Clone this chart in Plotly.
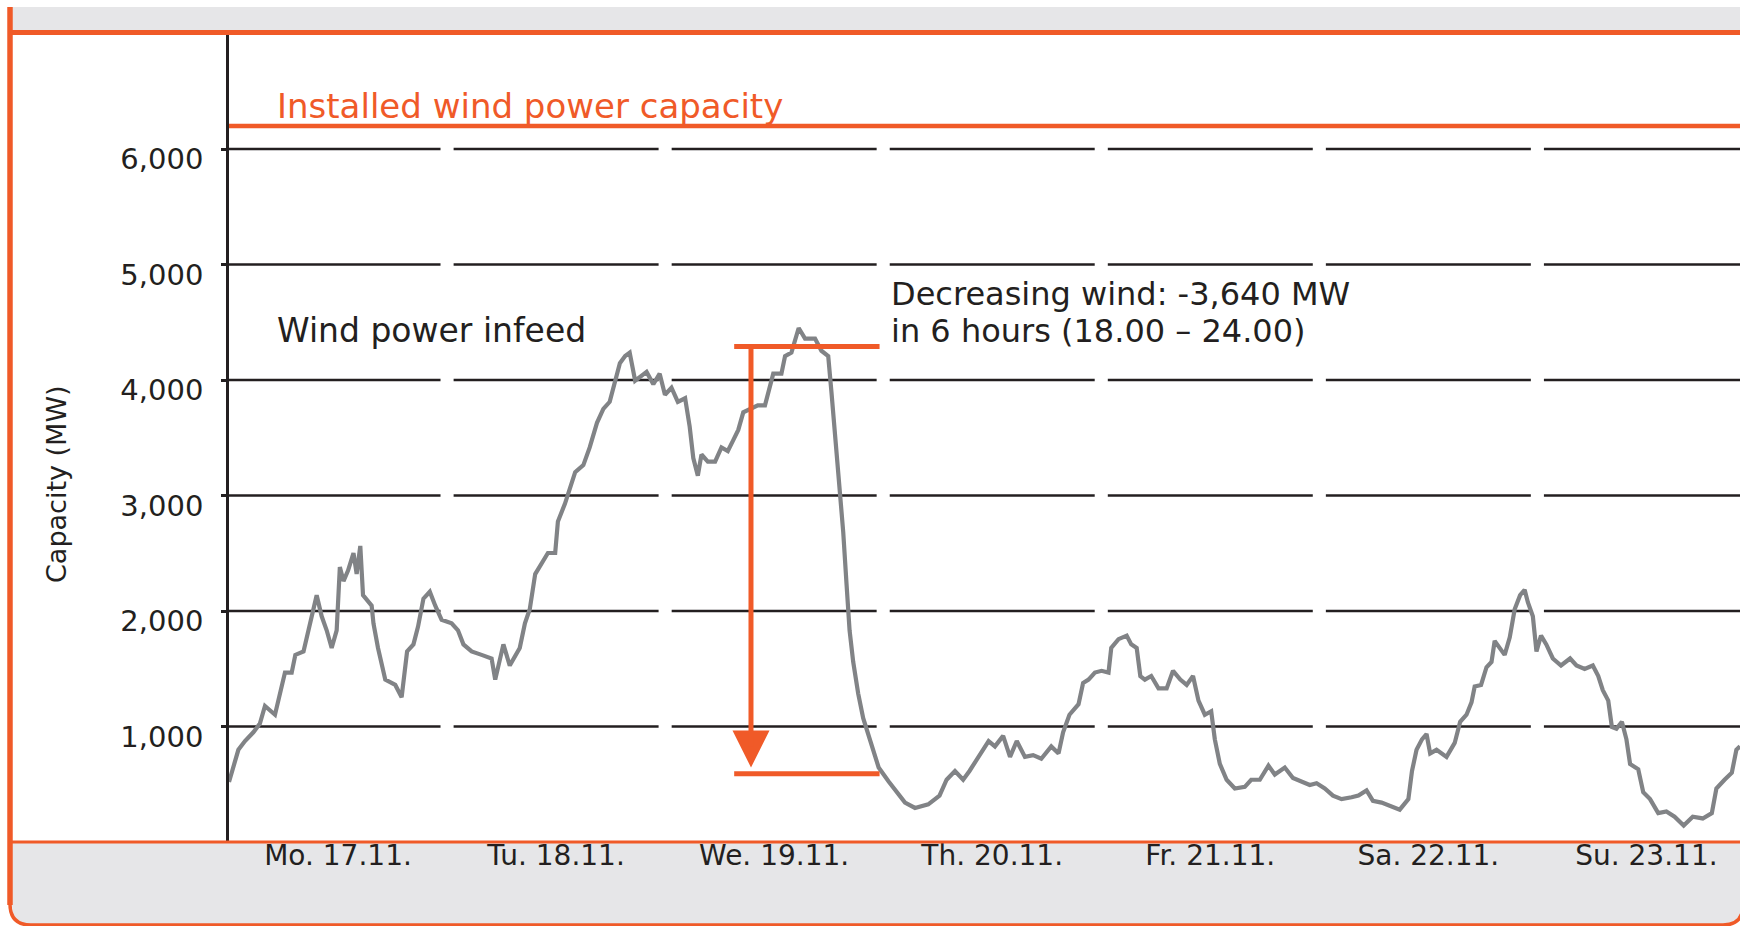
import plotly.graph_objects as go

# ---------------- data ----------------
# hours since Monday 17.11. 00:00
hours = [0.0, 0.6, 1.03, 1.76, 2.68, 3.4, 3.96, 5.06, 5.43, 6.16, 6.9, 7.3, 8.2, 8.73, 9.28, 9.65,
         10.2, 10.75, 11.3, 11.85, 12.2, 12.6, 13.1, 13.7, 14.05, 14.45, 14.75, 15.7, 15.9, 16.4,
         17.2, 18.3, 19.0, 19.6, 20.3, 20.8, 21.4, 22.1, 22.7, 23.4, 24.5, 25.2, 25.8, 26.7, 27.8,
         28.9, 29.3, 30.2, 30.9, 31.5, 32.0, 32.57, 33.1, 33.7, 34.4, 35.1, 35.9, 36.2, 36.97, 37.5,
         38.1, 39.0, 39.7, 40.5, 41.2, 41.9, 42.5, 43.02, 43.6, 44.1, 44.7, 45.2, 45.96, 46.7, 47.4,
         47.98, 48.7, 49.4, 50.2, 50.7, 51.1, 51.6, 52.0, 52.7, 53.5, 54.2, 54.9, 55.5, 56.05, 56.6,
         57.3, 58.2, 58.99, 59.5, 59.9, 60.8, 61.2, 61.9, 62.7, 63.4, 64.5, 65.2, 65.95, 66.3, 66.8,
         67.2, 67.6, 67.97, 68.3, 68.7, 69.25, 69.8, 70.7, 71.5, 72.6, 73.5, 74.4, 75.5, 76.96, 78.2,
         78.98, 79.9, 80.8, 81.5, 82.5, 83.6, 84.3, 85.2, 85.96, 86.7, 87.6, 88.5, 89.4, 90.5, 91.3,
         91.8, 92.5, 93.5, 94.0, 94.6, 95.3, 96.03, 96.8, 97.1, 97.9, 98.8, 99.3, 99.9, 100.3, 100.8,
         101.5, 102.3, 103.2, 103.9, 104.7, 105.4, 106.1, 106.7, 107.4, 108.1, 108.5, 109.05, 109.8,
         110.7, 111.8, 112.5, 113.45, 114.4, 115.1, 116.2, 117.1, 118.05, 118.95, 119.7, 120.6,
         121.5, 122.45, 123.55, 124.3, 125.2, 125.9, 126.85, 127.9, 128.85, 129.8, 130.2, 130.7,
         131.3, 131.8, 132.2, 132.9, 134.0, 134.9, 135.5, 136.2, 136.75, 137.1, 137.8, 138.4,
         138.95, 139.3, 139.9, 140.4, 140.96, 141.5, 142.1, 142.6, 142.95, 143.5, 143.9, 144.4,
         144.98, 145.7, 146.6, 147.6, 148.3, 149.2, 150.1, 150.7, 151.2, 151.8, 152.2, 152.7, 153.3,
         153.8, 154.2, 155.1, 155.65, 156.4, 157.3, 158.2, 159.1, 160.1, 161.1, 162.2, 163.2, 163.7,
         164.6, 165.4, 165.9, 166.3]

infeed_mw = [520, 700, 798, 874, 950, 1026, 1178, 1102, 1224, 1467, 1467, 1620, 1650, 1833, 1985, 2137,
             1954, 1833, 1680, 1833, 2380, 2259, 2350, 2502, 2320, 2563, 2137, 2046, 1893, 1680,
             1406, 1360, 1254, 1650, 1711, 1863, 2107, 2167, 2046, 1924, 1893, 1833, 1711, 1650, 1620,
             1589, 1406, 1711, 1528, 1620, 1680, 1893, 2015, 2320, 2411, 2502, 2502, 2776, 2928, 3050,
             3202, 3263, 3416, 3629, 3750, 3811, 3994, 4146, 4207, 4237, 3994, 4024, 4070, 3963, 4055,
             3872, 3933, 3811, 3842, 3598, 3324, 3172, 3355, 3294, 3294, 3416, 3385, 3479, 3568, 3720,
             3750, 3781, 3781, 3933, 4055, 4055, 4207, 4237, 4450, 4359, 4359, 4253, 4207, 3900, 3446,
             3081, 2685, 2228, 1833, 1559, 1285, 1072, 858, 645, 524, 432, 341, 295, 326, 402,
             539, 615, 539, 615, 737, 874, 828, 919, 737, 874, 737, 752, 721, 828, 767,
             950, 1102, 1193, 1376, 1406, 1467, 1482, 1467, 1680, 1756, 1787, 1711, 1680, 1437, 1406,
             1437, 1330, 1330, 1482, 1406, 1360, 1437, 1224, 1102, 1132, 889, 676, 539,
             463, 478, 539, 539, 661, 584, 645, 554, 524, 493, 508, 463,
             402, 371, 387, 402, 447, 356, 341, 310, 280, 371, 615, 798,
             889, 935, 767, 798, 737, 858, 1041, 1102, 1209, 1346, 1360, 1513,
             1559, 1741, 1680, 1620, 1772, 2015, 2137, 2183, 2076, 1954, 1650, 1787,
             1711, 1589, 1528, 1589, 1528, 1498, 1528, 1437, 1315, 1224, 995, 980, 1041,
             889, 676, 630, 432, 371, 250, 265, 219, 143, 219, 204, 250, 463,
             539, 600, 798, 828]

day_labels = ["Mo. 17.11.", "Tu. 18.11.", "We. 19.11.", "Th. 20.11.", "Fr. 21.11.", "Sa. 22.11.", "Su. 23.11."]
y_tick_values = [1000, 2000, 3000, 4000, 5000, 6000]

installed_capacity_mw = 6200
drop_top_mw = 4290
drop_bottom_mw = 590
arrow_tip_mw = 645
drop_bracket_hours = [55.6, 71.6]
drop_arrow_hour = 57.45

installed_label = "Installed wind power capacity"
infeed_label = "Wind power infeed"
drop_label_lines = ["Decreasing wind: -3,640 MW", "in 6 hours (18.00 – 24.00)"]
y_title = "Capacity (MW)"

# ---------------- style ----------------
ORANGE = "#f05a28"
GREY_LINE = "#818386"
BAND = "#e6e6e8"
INK = "#231f20"
FONT = "DejaVu Sans"

W, H = 1740, 926
L, R, T, B = 229, 0, 35, 84
X_MAX = 166.3
Y_MAX = 6987
HOURS_PER_DAY = 24
GAP_H = 0.72  # half gap (hours) of dashed gridlines at day boundaries


def pxx(x):
    return (x - L) / (W - L - R)


def pxy(y):
    return (H - B - y) / (H - T - B)


fig = go.Figure()

fig.add_trace(go.Scatter(
    x=hours, y=infeed_mw, mode="lines",
    line=dict(color=GREY_LINE, width=4.2),
    hoverinfo="skip", showlegend=False,
))

# arrow head of the drop annotation
fig.add_trace(go.Scatter(
    x=[drop_arrow_hour], y=[arrow_tip_mw], mode="markers",
    marker=dict(symbol="arrow-down", size=37, color=ORANGE, line=dict(width=0)),
    hoverinfo="skip", showlegend=False, cliponaxis=False,
))

shapes = []

# dashed horizontal gridlines (gap at every day boundary)
for yv in y_tick_values:
    for d in range(len(day_labels)):
        x0 = d * HOURS_PER_DAY + (GAP_H if d > 0 else 0)
        x1 = min((d + 1) * HOURS_PER_DAY - GAP_H, X_MAX)
        shapes.append(dict(type="line", xref="x", yref="y", x0=x0, x1=x1, y0=yv, y1=yv,
                           line=dict(color=INK, width=2.6), layer="below"))

# installed capacity line
shapes.append(dict(type="line", xref="x", yref="y", x0=0, x1=X_MAX,
                   y0=installed_capacity_mw, y1=installed_capacity_mw,
                   line=dict(color=ORANGE, width=4.5), layer="above"))

# drop bracket
for yv in (drop_top_mw, drop_bottom_mw):
    shapes.append(dict(type="line", xref="x", yref="y", x0=drop_bracket_hours[0], x1=drop_bracket_hours[1],
                       y0=yv, y1=yv, line=dict(color=ORANGE, width=5), layer="above"))
shapes.append(dict(type="line", xref="x", yref="y", x0=drop_arrow_hour, x1=drop_arrow_hour,
                   y0=drop_top_mw, y1=arrow_tip_mw + 180, line=dict(color=ORANGE, width=5), layer="above"))

# frame: grey bands and orange borders (paper coordinates from pixel positions)
shapes.append(dict(type="rect", xref="paper", yref="paper", x0=pxx(12), x1=pxx(1745), y0=pxy(7), y1=pxy(31),
                   fillcolor=BAND, line=dict(width=0), layer="below"))
bottom_band = (f"M {pxx(12)},{pxy(843)} L {pxx(1745)},{pxy(843)} L {pxx(1745)},{pxy(905)} "
               f"Q {pxx(1745)},{pxy(925)} {pxx(1725)},{pxy(925)} L {pxx(32)},{pxy(925)} "
               f"Q {pxx(12)},{pxy(925)} {pxx(12)},{pxy(905)} Z")
shapes.append(dict(type="path", xref="paper", yref="paper", path=bottom_band,
                   fillcolor=BAND, line=dict(width=0), layer="below"))
shapes.append(dict(type="line", xref="paper", yref="paper", x0=pxx(10), x1=pxx(10), y0=pxy(7), y1=pxy(905),
                   line=dict(color=ORANGE, width=5.5), layer="above"))
bottom_border = (f"M {pxx(10)},{pxy(904)} Q {pxx(10)},{pxy(925)} {pxx(31)},{pxy(925)} "
                 f"L {pxx(1723)},{pxy(925)} Q {pxx(1743)},{pxy(925)} {pxx(1743)},{pxy(905)}")
shapes.append(dict(type="path", xref="paper", yref="paper", path=bottom_border,
                   line=dict(color=ORANGE, width=3.5), layer="above"))
shapes.append(dict(type="line", xref="paper", yref="paper", x0=pxx(8), x1=pxx(1745), y0=pxy(32.5), y1=pxy(32.5),
                   line=dict(color=ORANGE, width=5), layer="above"))
shapes.append(dict(type="line", xref="paper", yref="paper", x0=pxx(8), x1=pxx(1745), y0=pxy(842), y1=pxy(842),
                   line=dict(color=ORANGE, width=3), layer="above"))

annotations = [
    dict(text=installed_label, xref="paper", yref="paper", x=pxx(275), y=pxy(106),
         xanchor="left", yanchor="middle", showarrow=False,
         font=dict(family=FONT, size=34, color=ORANGE)),
    dict(text=infeed_label, xref="paper", yref="paper", x=pxx(275), y=pxy(330),
         xanchor="left", yanchor="middle", showarrow=False,
         font=dict(family=FONT, size=33, color=INK)),
    dict(text=drop_label_lines[0], xref="paper", yref="paper", x=pxx(889), y=pxy(294),
         xanchor="left", yanchor="middle", align="left", showarrow=False,
         font=dict(family=FONT, size=32, color=INK)),
    dict(text=drop_label_lines[1], xref="paper", yref="paper", x=pxx(889), y=pxy(331),
         xanchor="left", yanchor="middle", align="left", showarrow=False,
         font=dict(family=FONT, size=32, color=INK)),
    dict(text=y_title, xref="paper", yref="paper", x=pxx(56), y=pxy(484),
         xanchor="center", yanchor="middle", textangle=-90, showarrow=False,
         font=dict(family=FONT, size=27, color=INK)),
]

fig.update_layout(
    width=W, height=H, autosize=False,
    margin=dict(l=L, r=R, t=T, b=B, pad=0),
    paper_bgcolor="white", plot_bgcolor="white",
    showlegend=False,
    shapes=shapes, annotations=annotations,
    font=dict(family=FONT, color=INK),
)

fig.update_xaxes(
    range=[0, X_MAX], showgrid=False, zeroline=False, showline=False,
    tickmode="array",
    tickvals=[d * HOURS_PER_DAY + HOURS_PER_DAY / 2 for d in range(len(day_labels))],
    ticktext=day_labels, ticks="", ticklabelstandoff=-6,
    tickfont=dict(family=FONT, size=28, color=INK),
)
fig.update_yaxes(
    range=[0, Y_MAX], showgrid=False, zeroline=False,
    showline=True, linecolor=INK, linewidth=2.6,
    tickmode="array", tickvals=y_tick_values, tickformat=",d",
    ticks="outside", ticklen=5, tickwidth=2.6, tickcolor=INK,
    ticklabelstandoff=12, ticklabelshift=10,
    tickfont=dict(family=FONT, size=29, color=INK),
)

fig.write_html("out.html", config={"displayModeBar": False},
               post_script="document.body.style.margin='0';document.body.style.overflow='hidden';")
